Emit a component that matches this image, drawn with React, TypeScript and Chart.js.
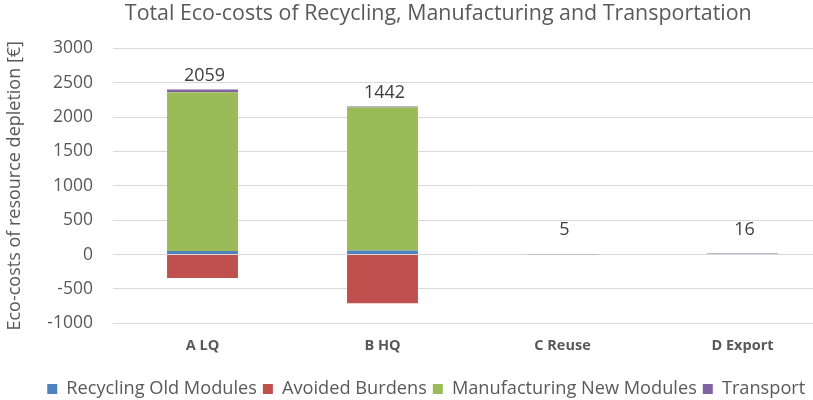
import { useEffect, useRef } from 'react';
import { Chart, registerables } from 'chart.js';

Chart.register(...registerables);

const categories = ['A LQ', 'B HQ', 'C Reuse', 'D Export'];
const recyclingOldModules = [50, 60, 0, 0];
const avoidedBurdens = [-341, -710, 0, 0];
const manufacturingNewModules = [2310, 2084, 0, 0];
const transport = [40, 8, 5, 16];
const seriesNames = ['Recycling Old Modules', 'Avoided Burdens', 'Manufacturing New Modules', 'Transport'];
const seriesColors = ['#4f81bd', '#c0504d', '#9bbb59', '#8064a2'];
const yMin = -1000;
const yMax = 3000;
const yStep = 500;
const chartTitle = 'Total Eco-costs of Recycling, Manufacturing and Transportation';
const yTitle = 'Eco-costs of resource depletion [€]';

const FONT = '"Open Sans"';
const TEXT = '#595959';

export default function App() {
  const ref = useRef<HTMLCanvasElement | null>(null);

  useEffect(() => {
    if (!ref.current) return;
    const allSeries = [recyclingOldModules, avoidedBurdens, manufacturingNewModules, transport];

    const totalsPlugin = {
      id: 'totals',
      afterLayout(chart: any) {
        if (chart.titleBlock) {
          chart.titleBlock.left += 22;
          chart.titleBlock.right += 22;
        }
        if (chart.legend) {
          chart.legend.left += 10;
          chart.legend.right += 10;
        }
      },
      afterDatasetsDraw(chart: any) {
        const ctx = chart.ctx;
        const xs = chart.scales.x;
        const ys = chart.scales.y;
        ctx.save();
        ctx.font = `18px ${FONT}`;
        ctx.fillStyle = '#404040';
        ctx.textAlign = 'center';
        ctx.textBaseline = 'middle';
        categories.forEach((_, i) => {
          const total = allSeries.reduce((s, a) => s + a[i], 0);
          const posTop = allSeries.reduce((s, a) => s + Math.max(a[i], 0), 0);
          const cx = xs.getPixelForValue(i);
          const cy = Math.min(ys.getPixelForValue(posTop) - 14, ys.getPixelForValue(0) - 25);
          ctx.fillText(String(total), cx + 2, cy);
        });
        ctx.restore();
      },
    };

    const chart = new Chart(ref.current, {
      type: 'bar',
      data: {
        labels: categories,
        datasets: allSeries.map((d, i) => ({
          label: seriesNames[i],
          data: d,
          backgroundColor: seriesColors[i],
          borderWidth: 0,
          categoryPercentage: 1,
          barPercentage: 0.394,
        })),
      },
      options: {
        responsive: false,
        animation: false,
        layout: { padding: { left: 0, right: 7.5, top: 0, bottom: 0 } },
        plugins: {
          title: {
            display: true,
            text: chartTitle,
            color: TEXT,
            font: { family: FONT, size: 21.4, weight: 'normal', lineHeight: 1.2 },
            padding: { top: 1.5, bottom: 21.1 },
          },
          legend: {
            position: 'bottom',
            labels: {
              color: TEXT,
              font: { family: FONT, size: 18.2 },
              boxWidth: 10,
              boxHeight: 10,
              padding: 6,
            },
          },
          tooltip: { enabled: false },
        },
        scales: {
          x: {
            stacked: true,
            grid: { display: false, drawTicks: false },
            border: { display: false },
            ticks: {
              color: TEXT,
              font: { family: FONT, size: 14.5, weight: 'bold' },
              padding: 14,
            },
            afterFit: (s: any) => {
              s.height = 50.5;
            },
          },
          y: {
            stacked: true,
            min: yMin,
            max: yMax,
            grid: { color: '#d9d9d9', drawTicks: false },
            border: { display: false },
            ticks: {
              stepSize: yStep,
              color: TEXT,
              font: { family: FONT, size: 17.5 },
              padding: 19.5,
              callback: (v: any) => String(v),
            },
            title: {
              display: true,
              text: yTitle,
              color: TEXT,
              font: { family: FONT, size: 18 },
              padding: { top: 4, bottom: 0 },
            },
            afterFit: (s: any) => {
              s.width = 112.5;
            },
          },
        },
      },
      plugins: [totalsPlugin],
    });
    return () => chart.destroy();
  }, []);

  return (
    <div style={{ position: 'fixed', left: 0, top: 0, width: 813, height: 400, overflow: 'hidden', background: '#fff' }}>
      <canvas ref={ref} width={840} height={408} />
    </div>
  );
}
